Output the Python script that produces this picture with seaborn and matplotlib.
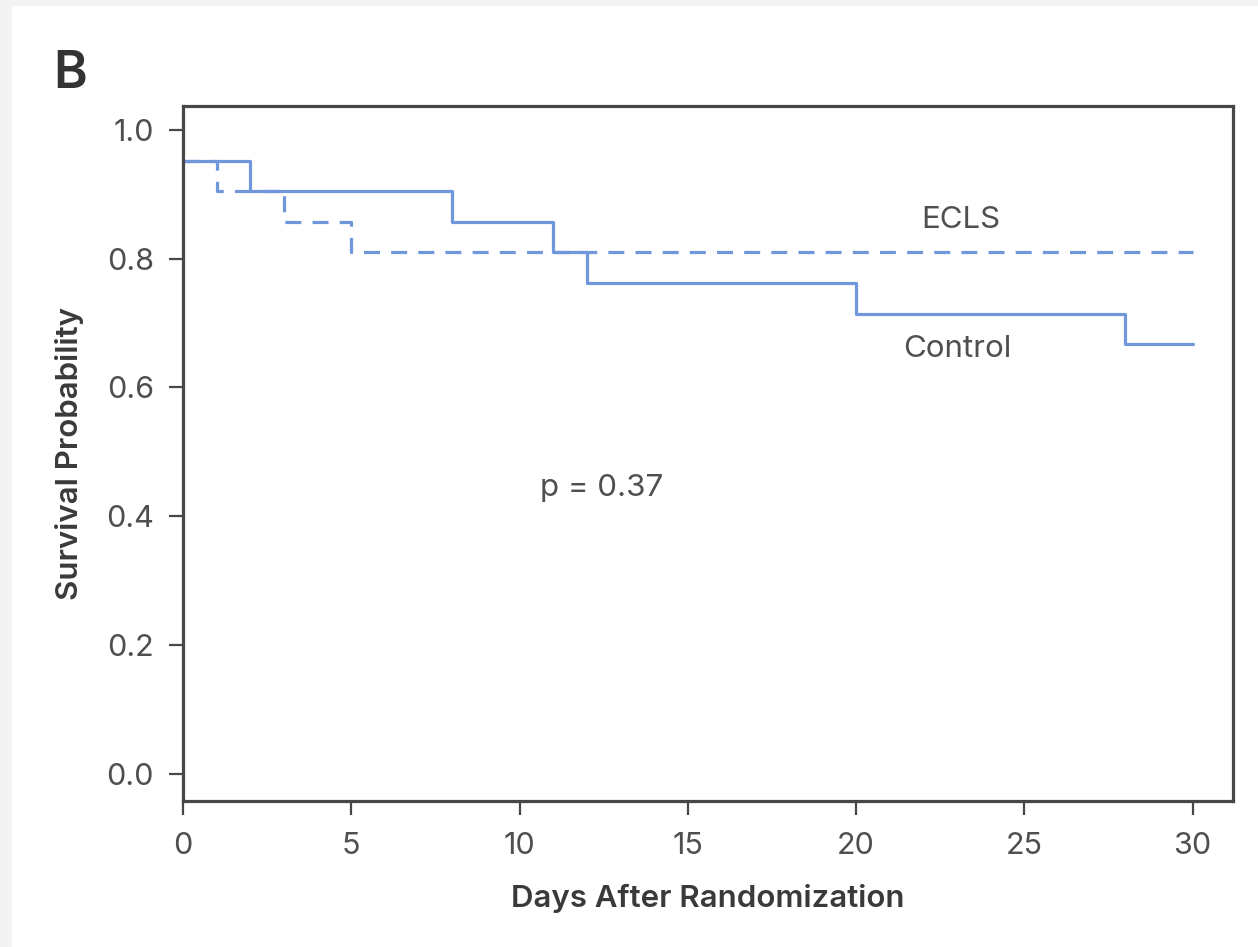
import matplotlib

matplotlib.use("Agg")
import matplotlib.pyplot as plt
import pandas as pd
import seaborn as sns
from matplotlib.patches import Rectangle

# Kaplan-Meier steps (days, survival probability)
CONTROL_DAYS = [0, 2, 8, 11, 12, 20, 28, 30]
CONTROL_SURV = [0.952, 0.905, 0.857, 0.810, 0.762, 0.714, 0.667, 0.667]
ECLS_DAYS = [0, 1, 3, 5, 30]
ECLS_SURV = [0.952, 0.905, 0.857, 0.810, 0.810]

X_TICKS = [0, 5, 10, 15, 20, 25, 30]
Y_TICKS = [0.0, 0.2, 0.4, 0.6, 0.8, 1.0]
P_TEXT = "p = 0.37"

LINE_COLOR = "#7096dc"
SPINE_COLOR = "#474747"
TEXT_COLOR = "#3a3a3a"
TICK_TEXT = "#4f4f4f"

sns.set_theme(style="white")
plt.rcParams["font.family"] = ["Inter", "DejaVu Sans"]

df = pd.concat(
    [
        pd.DataFrame({"dias": CONTROL_DAYS, "surv": CONTROL_SURV, "grupo": "Control"}),
        pd.DataFrame({"dias": ECLS_DAYS, "surv": ECLS_SURV, "grupo": "ECLS"}),
    ],
    ignore_index=True,
)

fig = plt.figure(figsize=(12.58, 9.47), dpi=100, facecolor="#f3f3f3")
# white card with a thin grey margin at top and left
fig.patches.append(
    Rectangle((12 / 1258, 0), 1, 1 - 6 / 947, transform=fig.transFigure,
              facecolor="white", edgecolor="none", zorder=-10)
)

ax = fig.add_axes([183 / 1258, 146 / 947, 1050 / 1258, 695 / 947])
ax.set_zorder(2)
sns.lineplot(
    data=df, x="dias", y="surv", style="grupo",
    dashes={"Control": "", "ECLS": (5, 3.5)},
    color=LINE_COLOR, linewidth=2.3, drawstyle="steps-post",
    estimator=None, sort=False, legend=False, ax=ax,
)

ax.set_xlim(0, 31.2)
ax.set_ylim(-0.042, 1.037)
ax.set_xticks(X_TICKS)
ax.set_yticks(Y_TICKS)
ax.set_yticklabels([f"{v:.1f}" for v in Y_TICKS])

for s in ax.spines.values():
    s.set_color(SPINE_COLOR)
    s.set_linewidth(2.3)

ax.tick_params(axis="both", direction="out", length=10, width=1.6,
               color=SPINE_COLOR, labelsize=22, labelcolor=TICK_TEXT,
               bottom=True, left=True)
ax.tick_params(axis="x", pad=12)
ax.tick_params(axis="y", pad=11)

ax.set_xlabel("Days After Randomization", fontsize=22.5, fontweight="semibold", color=TEXT_COLOR)
ax.set_ylabel("Survival Probability", fontsize=22.5, fontweight="semibold", color=TEXT_COLOR)
ax.xaxis.set_label_coords(0.5, -0.14)
ax.xaxis.label.set_va("center")
ax.yaxis.set_label_coords(-0.108, 0.5)
ax.yaxis.label.set_va("center")

ax.text(23.1, 0.86, "ECLS", fontsize=22.5, color=TICK_TEXT, ha="center", va="center")
ax.text(23.0, 0.66, "Control", fontsize=22.5, color=TICK_TEXT, ha="center", va="center")
ax.text(10.6, 0.444, P_TEXT, fontsize=22.5, color=TICK_TEXT, ha="left", va="center")

fig.text(53 / 1258, 1 - 50 / 947, "B", fontsize=37, fontweight="semibold",
         color="#333333", ha="left", va="top")

fig.savefig("out.png", dpi=100, facecolor=fig.get_facecolor())
